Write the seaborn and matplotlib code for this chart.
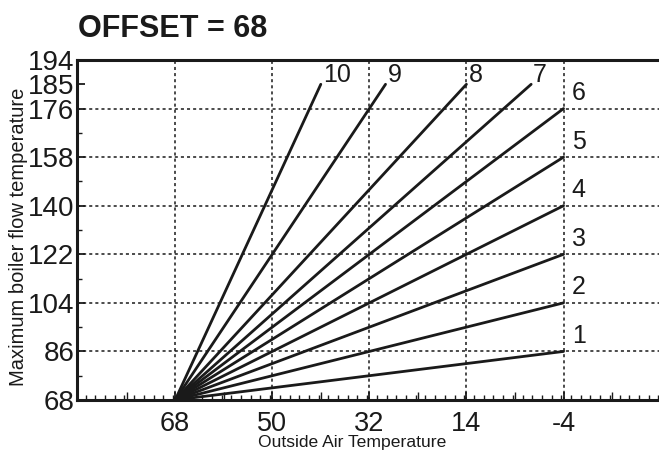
import numpy as np
import pandas as pd
import matplotlib
matplotlib.use('Agg')
import matplotlib.pyplot as plt
from matplotlib.ticker import FixedLocator, NullFormatter
import seaborn as sns

sns.set_theme(style="white")
NARROW = ['Liberation Sans Narrow', 'Liberation Sans', 'DejaVu Sans']
plt.rcParams['font.family'] = NARROW

# heating curve data
CURVES = [1, 2, 3, 4, 5, 6, 7, 8, 9, 10]
START_OAT = 68
START_FLOW = 68
END_OAT = [-4, -4, -4, -4, -4, -4, 2, 14, 29, 41]
END_FLOW = [86, 104, 122, 140, 158, 176, 185, 185, 185, 185]

X_TICKS = [68, 50, 32, 14, -4]
Y_TICKS = [68, 86, 104, 122, 140, 158, 176, 185, 194]
Y_GRID = [86, 104, 122, 140, 158, 176]
X_GRID = [68, 50, 32, 14, -4]
TITLE = "OFFSET = 68"
INK = "#1a1a1a"

rows = []
for c, xe, ye in zip(CURVES, END_OAT, END_FLOW):
    rows.append({"curve": c, "oat": START_OAT, "flow": START_FLOW})
    rows.append({"curve": c, "oat": xe, "flow": ye})
df = pd.DataFrame(rows)

fig = plt.figure(figsize=(6.59, 4.53), dpi=100)
ax = fig.add_axes([77 / 659, 53 / 453, 1 - 77 / 659, 340 / 453])

# dotted grid
for gx in X_GRID:
    ax.axvline(gx, color=INK, lw=1.1, ls=(0, (2, 2)), zorder=1)
for gy in Y_GRID:
    ax.axhline(gy, color=INK, lw=1.1, ls=(0, (2, 2)), zorder=1)

sns.lineplot(data=df, x="oat", y="flow", hue="curve", units="curve",
             estimator=None, sort=False, palette=[INK] * len(CURVES),
             legend=False, lw=2.0, ax=ax, zorder=3)

# curve numbers
for c, xe, ye in zip(CURVES, END_OAT, END_FLOW):
    if ye < 185:
        off = (6, 2.5)
    else:
        off = (1.5, -2)
    ax.annotate(str(c), (xe, ye), xytext=off, textcoords="offset points",
                ha="left", va="bottom", fontsize=18, color=INK)

ax.set_xlim(86.2, -21.7)
ax.set_ylim(68, 194)

ax.xaxis.set_major_locator(FixedLocator(X_TICKS))
ax.set_xticklabels([str(v) for v in X_TICKS])
ax.xaxis.set_minor_locator(FixedLocator(np.arange(-22, 87, 1.8) + 0.4))
ax.yaxis.set_major_locator(FixedLocator(Y_TICKS))
ax.set_yticklabels([str(v) for v in Y_TICKS])
ax.yaxis.set_minor_locator(FixedLocator(np.arange(77, 176, 18)))

ax.tick_params(axis="both", which="both", bottom=True, left=True)
ax.tick_params(axis="both", which="major", direction="in", length=6, width=1.3,
               labelsize=20, colors=INK)
ax.tick_params(axis="x", which="major", labelsize=19.5, pad=8)
ax.tick_params(axis="y", which="major", pad=2)
ax.tick_params(axis="both", which="minor", direction="in", length=3.5, width=1.0,
               colors=INK)

# medium ticks halfway between labelled x ticks
sec = ax.secondary_xaxis("bottom")
sec.xaxis.set_major_locator(FixedLocator([77, 59, 41, 23, 5, -13]))
sec.xaxis.set_major_formatter(NullFormatter())
sec.tick_params(bottom=True, direction="in", length=6, width=1.0, colors=INK)
sec.spines["bottom"].set_visible(False)

for side in ["top", "left", "bottom"]:
    ax.spines[side].set_color(INK)
    ax.spines[side].set_linewidth(2.2)
ax.spines["right"].set_visible(False)

ax.set_xlabel("Outside Air Temperature", fontsize=12.6, color=INK)
ax.xaxis.set_label_coords(0.4725, -0.103)
ax.set_ylabel("Maximum boiler flow temperature", fontsize=14.5, color=INK)
ax.yaxis.set_label_coords(-0.084, 0.48)

fig.text(78 / 659, 1 - 37 / 453, TITLE, fontsize=22, fontweight="bold",
         family=['Liberation Sans', 'DejaVu Sans'],
         color=INK, ha="left", va="baseline")

fig.savefig("out.png", dpi=100)
